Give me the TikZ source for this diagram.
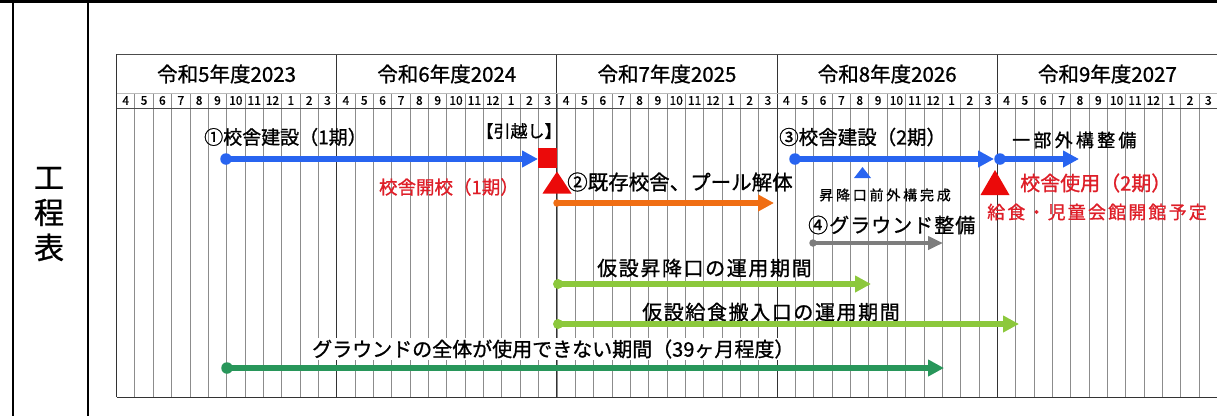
\documentclass[tikz,border=0pt]{standalone}
\usepackage{fontspec}
\setmainfont{Noto Sans CJK JP}[RawFeature={embolden=1.0}]
\usetikzlibrary{arrows.meta}
\definecolor{bluec}{RGB}{40,100,240}
\definecolor{redc}{RGB}{235,10,10}
\definecolor{redt}{RGB}{222,30,40}
\definecolor{orangec}{RGB}{240,110,20}
\definecolor{grayc}{RGB}{125,125,125}
\definecolor{lgreen}{RGB}{140,200,60}
\definecolor{dgreen}{RGB}{40,150,90}
\definecolor{gridc}{RGB}{140,140,140}
\tikzset{
  yearlbl/.style={inner sep=0pt, font=\fontsize{20.5}{20.5}\selectfont},
  monlbl/.style={inner sep=0pt, font=\fontsize{12}{12}\selectfont},
  lbl/.style={inner sep=0pt, anchor=west},
  fs/.style={font=\fontsize{#1}{#1}\selectfont},
  bar/.style={line width=5.5pt, -{Triangle[length=16pt,width=16pt]}},
  startdot/.style={circle, inner sep=0pt, minimum size=11.5pt},
  smalldot/.style={circle, inner sep=0pt, minimum size=7.5pt},
}
\begin{document}
\begin{tikzpicture}[x=1pt,y=-1pt]
\useasboundingbox (0,0) rectangle (1217,416);
\clip (0,0) rectangle (1217,416);
% outer frame
\draw[line width=2.6pt] (0,1.3) -- (1217,1.3);
\draw[line width=2.4pt] (12.8,0) -- (12.8,416);
\draw[line width=2pt] (88.3,0) -- (88.3,416);
\node[align=center, inner sep=0pt, font=\fontsize{30}{35}\selectfont] (kotei) at (49,214) {工\\程\\表};
% chart grid
\foreach \k in {1,...,59} {
  \draw[gridc, line width=0.8pt] ({116.5+18.35*\k},93) -- ({116.5+18.35*\k},397);
}
\foreach \k in {0,12,24,36,48} {
  \draw[black!80, line width=0.9pt] ({116.5+18.35*\k},54) -- ({116.5+18.35*\k},397);
}
\draw[black!70, line width=0.8pt] (116.5,54.3) -- (1217,54.3);
\draw[gridc!60, line width=0.6pt] (116.5,93) -- (1217,93);
\draw[black!70, line width=0.8pt] (116.5,108) -- (1217,108);
\draw[black!80, line width=0.9pt] (116.5,397) -- (1217,397);
% header labels
\foreach \y/\t in {0/令和5年度2023,1/令和6年度2024,2/令和7年度2025,3/令和8年度2026,4/令和9年度2027} {
  \node[yearlbl] (yr\y) at ({116.5+220.2*\y+110.1},74) {\t};
  \foreach \m [count=\i from 0] in {4,5,6,7,8,9,10,11,12,1,2,3} {
    \node[monlbl] (mo\y-\i) at ({116.5+220.2*\y+18.35*\i+9.2},100.5) {\m};
  }
}
% (1) building phase 1
\node[lbl, fs=19] (l1) at (204,137) {①校舎建設（1期）};
\node[startdot, fill=bluec] (s1) at (226,159) {};
\coordinate (e1) at (538,159);
\draw[bar, bluec] (s1.center) -- (e1);
\node[fill=redc, minimum width=19pt, minimum height=20pt, inner sep=0pt] (move) at (547.5,158) {};
\node[inner sep=0pt, fs=17] (lmove) at (519,131) {【引越し】};
\fill[redc] (542.5,193.5) -- (557,171.5) -- (571.5,193.5) -- cycle;
\node[inner sep=0pt, anchor=east, text=redt, fs=18.5] (open1) at (519,187) {校舎開校（1期）};
% (2) demolition
\node[lbl, fs=20.5] (l2) at (567,182) {②既存校舎、プール解体};
\node[smalldot, fill=orangec] (s2) at (557,203) {};
\coordinate (e2) at (774,203);
\draw[bar, orangec] (s2.center) -- (e2);
% (3) building phase 2
\node[lbl, fs=19.5] (l3) at (779,137) {③校舎建設（2期）};
\node[startdot, fill=bluec] (s3) at (795,159) {};
\coordinate (e3) at (994,159);
\draw[bar, bluec] (s3.center) -- (e3);
\node[startdot, fill=bluec] (s3b) at (1000,159) {};
\coordinate (e3b) at (1079,159);
\draw[bar, bluec] (s3b.center) -- (e3b);
\fill[bluec] (854,178) -- (862.5,167) -- (871,178) -- cycle;
\node[inner sep=0pt, font=\fontsize{14}{14}\selectfont\addfontfeatures{LetterSpace=20}] (l3m) at (885,195) {昇降口前外構完成};
\node[lbl, font=\fontsize{18}{18}\selectfont\addfontfeatures{LetterSpace=18}] (l3b) at (1012,140) {一部外構整備};
\fill[redc] (980.5,195) -- (995,170) -- (1009.5,195) -- cycle;
\node[lbl, text=redt, fs=20] (use2) at (1020,183) {校舎使用（2期）};
\node[lbl, text=redt, font=\fontsize{18}{18}\selectfont\addfontfeatures{LetterSpace=12}] (kyu) at (987,212) {給食・児童会館開館予定};
% (4) ground
\node[lbl, font=\fontsize{20}{20}\selectfont\addfontfeatures{LetterSpace=5}] (l4) at (808,225) {④グラウンド整備};
\node[smalldot, fill=grayc] (s4) at (813,243) {};
\coordinate (e4) at (943,243);
\draw[grayc, line width=4pt, -{Triangle[length=15pt,width=13pt]}] (s4.center) -- (e4);
% temporary entrances
\node[lbl, font=\fontsize{20}{20}\selectfont\addfontfeatures{LetterSpace=8}] (l5) at (597,268) {仮設昇降口の運用期間};
\node[startdot, minimum size=10pt, fill=lgreen] (s5) at (558,284) {};
\coordinate (e5) at (871,284);
\draw[bar, lgreen] (s5.center) -- (e5);
\node[lbl, font=\fontsize{20}{20}\selectfont\addfontfeatures{LetterSpace=8}] (l6) at (642,312) {仮設給食搬入口の運用期間};
\node[startdot, minimum size=10pt, fill=lgreen] (s6) at (558,324) {};
\coordinate (e6) at (1019,324);
\draw[bar, lgreen] (s6.center) -- (e6);
% ground unusable
\node[lbl, fs=20, fill=white, inner sep=1pt] (l7) at (311,349) {グラウンドの全体が使用できない期間（39ヶ月程度）};
\node[startdot, fill=dgreen] (s7) at (227,368) {};
\coordinate (e7) at (944,368);
\draw[bar, dgreen] (s7.center) -- (e7);
\end{tikzpicture}
\end{document}
